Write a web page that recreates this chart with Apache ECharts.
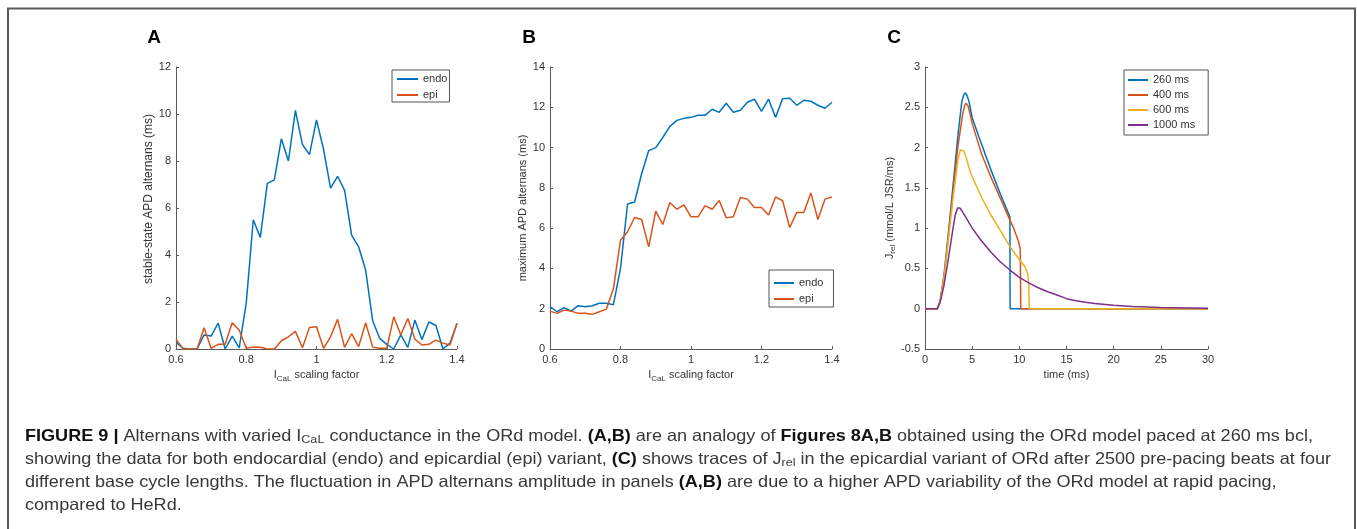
<!DOCTYPE html>
<html><head><meta charset="utf-8">
<script src="https://cdn.jsdelivr.net/npm/echarts@6/dist/echarts.min.js"></script>
<style>html,body{margin:0;padding:0;background:#fff;}#c{width:1357px;height:529px;}</style>
</head><body><div id="c"></div>
<script>
// ---------- DATA ----------
const scalingFactor = [0.6,0.62,0.64,0.66,0.68,0.7,0.72,0.74,0.76,0.78,0.8,0.82,0.84,0.86,0.88,0.9,0.92,0.94,0.96,0.98,1.0,1.02,1.04,1.06,1.08,1.1,1.12,1.14,1.16,1.18,1.2,1.22,1.24,1.26,1.28,1.3,1.32,1.34,1.36,1.38,1.4];
// Panel A: stable-state APD alternans (ms)
const aEndo = [0.28,0.03,0,0,0.6,0.55,1.1,0,0.55,0.05,1.95,5.5,4.75,7.05,7.2,8.95,8.0,10.15,8.7,8.27,9.75,8.5,6.85,7.35,6.75,4.85,4.35,3.35,1.2,0.45,0.2,0,0.6,0.07,1.23,0.4,1.15,1.0,0,0.25,1.1];
const aEpi  = [0.42,0,0,0,0.9,0.03,0.2,0.2,1.12,0.8,0.03,0.08,0.07,0,0,0.35,0.52,0.75,0.05,0.92,0.95,0.03,0.52,1.26,0.07,0.65,0.1,1.12,0.08,0.03,0.03,1.37,0.6,1.3,0.42,0.17,0.2,0.38,0.25,0.17,1.09];
// Panel B: maximum APD alternans (ms)
const bEndo = [2.1,1.85,2.05,1.88,2.15,2.1,2.15,2.27,2.27,2.2,4.0,7.2,7.3,8.7,9.85,10.0,10.5,11.05,11.35,11.45,11.5,11.6,11.6,11.9,11.75,12.2,11.75,11.85,12.25,12.4,11.8,12.4,11.5,12.43,12.45,12.1,12.35,12.3,12.1,11.95,12.25];
const bEpi  = [1.88,1.77,1.93,1.88,1.77,1.77,1.72,1.85,1.98,3.0,5.4,5.82,6.53,6.43,5.07,6.84,6.18,7.27,6.94,7.16,6.56,6.56,7.12,6.94,7.37,6.51,6.56,7.52,7.44,7.02,7.02,6.65,7.55,7.36,6.03,6.78,6.78,7.75,6.43,7.44,7.55];
// Panel C: Jrel traces (time in ms, value in mmol/L JSR/ms)
const c260T = [0,1.3,1.45,1.6,2.0,2.5,3.0,3.5,3.9,4.1,4.26,4.45,4.67,5,6,7,8,9,9.02,30];
const c260V = [0,0,0.02,0.09,0.4,0.96,1.56,2.16,2.57,2.65,2.68,2.65,2.57,2.37,2.04,1.72,1.42,1.14,0,0];
const c400T = [0,1.3,1.45,1.6,2.0,2.5,3.0,3.5,4.0,4.2,4.36,4.55,4.75,5,6,7,8,9,9.4,9.9,10.1,10.15,30];
const c400V = [0,0,0.02,0.09,0.38,0.92,1.48,2.02,2.42,2.52,2.55,2.52,2.43,2.3,1.92,1.63,1.37,1.1,1.0,0.84,0.74,0,0];
const c600T = [0,1.3,1.45,1.6,2.0,2.5,3.0,3.5,3.75,3.9,4.1,4.4,4.79,5,6,7,8,9,10,10.6,10.9,11.0,11.05,30];
const c600V = [0,0,0.02,0.09,0.36,0.88,1.4,1.85,1.97,1.99,1.96,1.86,1.7,1.64,1.38,1.16,0.97,0.77,0.61,0.52,0.43,0.3,0,0];
const c1000T = [0,1.3,1.45,1.6,2.0,2.5,3.0,3.2,3.45,3.7,4.0,4.6,5,6,7,8,9,10,11,12,13,14,15,16,17,18,20,22,25,30];
const c1000V = [0,0,0.02,0.08,0.28,0.64,1.02,1.16,1.25,1.25,1.2,1.08,1.0,0.84,0.7,0.58,0.48,0.39,0.32,0.26,0.21,0.17,0.125,0.1,0.08,0.065,0.042,0.028,0.015,0.005];
// tick settings
const xTicksAB = {min:0.6, max:1.4, interval:0.2};
const yTicksA = {min:0, max:12, interval:2};
const yTicksB = {min:0, max:14, interval:2};
const xTicksC = {min:0, max:30, interval:5};
const yTicksC = {min:-0.5, max:3, interval:0.5};
const legendAB = ['endo','epi'];
const legendC = ['260 ms','400 ms','600 ms','1000 ms'];
// caption lines: [style, text]
const captionLines = [
  [['b','FIGURE 9 | '],['n','Alternans with varied I'],['s','CaL'],['n',' conductance in the ORd model. '],['b','(A,B)'],['n',' are an analogy of '],['b','Figures 8A,B'],['n',' obtained using the ORd model paced at 260 ms bcl,']],
  [['n','showing the data for both endocardial (endo) and epicardial (epi) variant, '],['b','(C)'],['n',' shows traces of J'],['s','rel'],['n',' in the epicardial variant of ORd after 2500 pre-pacing beats at four']],
  [['n','different base cycle lengths. The fluctuation in APD alternans amplitude in panels '],['b','(A,B)'],['n',' are due to a higher APD variability of the ORd model at rapid pacing,']],
  [['n','compared to HeRd.']]
];

// ---------- STYLE ----------
const FF = "'Liberation Sans', Arial, Helvetica, sans-serif";
const COL = {blue:'#0072BD', orange:'#D95319', yellow:'#EDB120', purple:'#7E2F8E'};
const AX = '#333333';
const AXLINE = '#5a5a5a';
const grids = [
  {left:176, top:67, width:281, height:282},
  {left:550, top:67, width:282, height:282},
  {left:925, top:67, width:283, height:282}
];
function nameRich(size){
  return {
    m:{fontSize:size, lineHeight:size+3, fontFamily:FF, color:AX},
    s:{fontSize:size-3, lineHeight:6, verticalAlign:'bottom', fontFamily:FF, color:AX}
  };
}
function mkAxis(idx, ticks, name, gap, nameSize, namePad){
  return {
    type:'value', gridIndex:idx, min:ticks.min, max:ticks.max, interval:ticks.interval,
    name:name, nameLocation:'middle', nameGap:gap,
    nameTextStyle:{fontSize:nameSize, fontFamily:FF, color:AX, rich:nameRich(nameSize), padding:namePad||0},
    axisLine:{show:true, onZero:false, lineStyle:{color:AXLINE, width:1}},
    axisTick:{show:true, inside:true, length:3, lineStyle:{color:AXLINE, width:1}},
    axisLabel:{fontSize:11, fontFamily:FF, color:AX, margin:5},
    splitLine:{show:false}
  };
}
function pairs(xs, ys){ return xs.map((x,i)=>[x, ys[i]]); }
function line(name, idx, data, color){
  return {type:'line', name:name, xAxisIndex:idx, yAxisIndex:idx, data:data, symbol:'none', showSymbol:false,
    lineStyle:{color:color, width:1.5}, itemStyle:{color:color}, animation:false, silent:true};
}
function mkLegend(names, left, top, itemWidth, padding, gap){
  return {data:names, orient:'vertical', left:left, top:top, icon:'rect', itemWidth:itemWidth, itemHeight:2,
    itemGap:gap, padding:padding, borderColor:'#555', borderWidth:1, backgroundColor:'#fff', selectedMode:false,
    textStyle:{fontSize:11, fontFamily:FF, color:AX, lineHeight:12}};
}

// caption (fitted to the reference line width)
const CAP_SIZE = 16.5;
const capRich = {
  n:{fontSize:CAP_SIZE, fontFamily:FF, fill:'#383838', lineHeight:20},
  b:{fontSize:CAP_SIZE, fontFamily:FF, fontWeight:'bold', fill:'#111111', lineHeight:20},
  s:{fontSize:11.5, fontFamily:FF, fill:'#383838', lineHeight:11, verticalAlign:'bottom'}
};
const mctx = document.createElement('canvas').getContext('2d');
function segWidth(st, txt){
  const r = capRich[st];
  mctx.font = (r.fontWeight||'normal') + ' ' + r.fontSize + 'px ' + FF;
  return mctx.measureText(txt).width;
}
function lineWidth(segs){ return segs.reduce((a,s)=>a+segWidth(s[0], s[1]), 0); }
const capScale = 1288 / lineWidth(captionLines[0]);
const capY = [436, 459, 482, 505];
const captionGraphics = captionLines.map((segs, i)=>({
  type:'text', x:25, y:capY[i], scaleX:capScale, scaleY:1, silent:true,
  style:{x:0, y:0, text:segs.map(s=>'{'+s[0]+'|'+s[1]+'}').join(''), rich:capRich,
    align:'left', textAlign:'left', verticalAlign:'middle', textVerticalAlign:'middle'}
}));
function panelLabel(txt, x){
  return {type:'text', x:x, y:38, silent:true, style:{x:0, y:0, text:txt, font:'bold 19px '+FF, fill:'#000',
    align:'center', textAlign:'center', verticalAlign:'middle', textVerticalAlign:'middle'}};
}

const chart = echarts.init(document.getElementById('c'), null, {renderer:'canvas'});
chart.setOption({
  animation:false,
  backgroundColor:'#ffffff',
  grid: grids,
  xAxis:[
    mkAxis(0,xTicksAB,'{m|I}{s|CaL}{m| scaling factor}',19,11),
    mkAxis(1,xTicksAB,'{m|I}{s|CaL}{m| scaling factor}',19,11),
    mkAxis(2,xTicksC,'time (ms)',19,11)
  ],
  yAxis:[
    mkAxis(0,yTicksA,'stable-state APD alternans (ms)',18,12,[0,0,0,18]),
    mkAxis(1,yTicksB,'maximum APD alternans (ms)',16,11),
    mkAxis(2,yTicksC,'{m|J}{s|rel}{m| (mmol/L JSR/ms)}',28,11)
  ],
  legend:[
    mkLegend(legendAB, 392, 70, 21, [3,2,1,5], 4),
    mkLegend(legendAB, 769, 270, 20, [7,10,2,5], 4),
    mkLegend(legendC, 1124, 70, 20, [4,13,4,4], 3)
  ],
  series:[
    line('endo',0,pairs(scalingFactor,aEndo),COL.blue),
    line('epi',0,pairs(scalingFactor,aEpi),COL.orange),
    line('endo',1,pairs(scalingFactor,bEndo),COL.blue),
    line('epi',1,pairs(scalingFactor,bEpi),COL.orange),
    line('260 ms',2,pairs(c260T,c260V),COL.blue),
    line('400 ms',2,pairs(c400T,c400V),COL.orange),
    line('600 ms',2,pairs(c600T,c600V),COL.yellow),
    line('1000 ms',2,pairs(c1000T,c1000V),COL.purple)
  ],
  graphic:[
    {type:'rect', silent:true, shape:{x:8, y:8.5, width:1347, height:600}, style:{fill:'none', stroke:'#5a5a5a', lineWidth:2}},
    panelLabel('A',154),
    panelLabel('B',529),
    panelLabel('C',894)
  ].concat(captionGraphics)
});
</script>
</body></html>
